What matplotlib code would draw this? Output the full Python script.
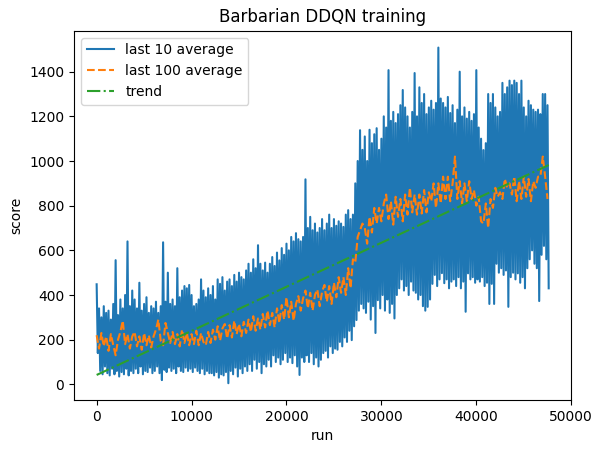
import numpy as np
import matplotlib
matplotlib.use("Agg")
import matplotlib.pyplot as plt

# шаг по оси run между отсчётами
step = 250

# верхние значения last 10 average (каждые 250 запусков)
last10_top = [
    448, 340, 300, 350, 320, 330, 290, 360,
    556, 310, 380, 340, 400, 640, 350, 420,
    380, 340, 455, 330, 360, 390, 320, 350,
    340, 370, 320, 350, 636, 370, 500, 360,
    380, 350, 520, 390, 420, 440, 430, 445,
    400, 350, 360, 380, 470, 420, 390, 430,
    400, 440, 380, 470, 450, 480, 420, 460,
    470, 440, 490, 460, 500, 480, 470, 510,
    540, 500, 560, 520, 623, 540, 510, 545,
    500, 540, 570, 530, 590, 555, 610, 580,
    630, 600, 660, 640, 677, 650, 640, 660,
    918, 700, 750, 690, 720, 680, 700, 740,
    690, 720, 760, 700, 740, 710, 730, 720,
    705, 760, 780, 740, 760, 900, 1000, 1138,
    1050, 1110, 1000, 1140, 1080, 1120, 1147, 1050,
    1100, 1200, 1150, 1407, 1180, 1220, 1170, 1210,
    1250, 1318, 1240, 1200, 1150, 1220, 1394, 1200,
    1330, 1260, 1300, 1210, 1240, 1270, 1230, 1260,
    1508, 1280, 1260, 1240, 1287, 1215, 1250, 1170,
    1230, 1400, 1200, 1240, 1190, 1220, 1180, 1210,
    1407, 1150, 1100, 1049, 1080, 1300, 1260, 1300,
    1240, 1200, 1220, 1350, 1300, 1330, 1360, 1340,
    1360, 1350, 1300, 1360, 1240, 1200, 1270, 1250,
    1230, 1220, 1230, 1210, 1300, 1300, 1250,
]

# нижние значения last 10 average (смещены на полшага)
last10_bottom = [
    140, 60, 45, 80, 50, 40, 70, 45,
    60, 35, 55, 45, 70, 40, 60, 50,
    70, 50, 80, 45, 60, 55, 75, 50,
    60, 80, 50, 19, 65, 55, 75, 60,
    70, 50, 80, 60, 55, 75, 60, 70,
    55, 75, 60, 50, 70, 45, 60, 50,
    50, 40, 55, 30, 45, 40, 55, 5,
    60, 45, 75, 35, 70, 50, 80, 60,
    90, 60, 110, 70, 100, 50, 90, 80,
    110, 80, 130, 100, 120, 90, 110, 140,
    100, 120, 95, 130, 80, 42, 120, 100,
    130, 100, 140, 90, 120, 80, 110, 140,
    150, 120, 170, 140, 160, 155, 190, 170,
    210, 190, 240, 198, 260, 288, 330, 360,
    340, 320, 370, 290, 350, 230, 377, 340,
    400, 330, 380, 320, 360, 295, 400, 430,
    470, 420, 440, 400, 460, 420, 410, 380,
    400, 350, 330, 347, 380, 450, 490, 440,
    470, 498, 453, 470, 430, 460, 470, 440,
    480, 430, 460, 325, 497, 470, 480, 455,
    470, 460, 480, 440, 455, 360, 450, 360,
    540, 500, 520, 490, 510, 347, 480, 500,
    470, 497, 455, 480, 430, 520, 560, 600,
    540, 520, 373, 580, 620, 560, 430,
]

# last 100 average (каждые 250 запусков)
last100 = [
    220, 160, 230, 170, 215, 150, 225, 175,
    130, 200, 235, 285, 180, 225, 160, 215,
    235, 170, 215, 155, 230, 175, 220, 165,
    215, 245, 290, 195, 175, 275, 230, 185,
    235, 180, 225, 170, 245, 185, 230, 175,
    225, 180, 240, 175, 230, 190, 175, 235,
    185, 245, 200, 260, 195, 250, 270, 205,
    265, 210, 285, 225, 270, 215, 280, 230,
    290, 235, 305, 240, 295, 245, 315, 255,
    330, 265, 320, 255, 340, 275, 355, 290,
    390, 300, 370, 285, 360, 395, 330, 385,
    420, 340, 410, 330, 400, 425, 350, 415,
    445, 370, 440, 360, 455, 390, 480, 410,
    480, 400, 520, 430, 560, 545, 660, 690,
    720, 700, 630, 750, 680, 790, 720, 790,
    730, 810, 850, 740, 820, 715, 840, 750,
    830, 730, 850, 760, 880, 770, 850, 760,
    850, 765, 870, 770, 860, 820, 900, 790,
    900, 810, 930, 830, 930, 820, 900, 1020,
    830, 910, 810, 900, 820, 910, 830, 870,
    800, 840, 730, 720, 810, 700, 830, 790,
    880, 840, 860, 830, 920, 880, 900, 850,
    930, 820, 910, 830, 930, 840, 920, 820,
    910, 880, 930, 930, 1020, 930, 830,
]

# линия тренда: начало и конец
trend_x = [0, 47625]
trend_y = [42, 982]

# собираем last 10 average: верх и низ по очереди
x_top = np.arange(len(last10_top)) * step
x_bot = x_top + step // 2
x10 = np.empty(len(x_top) * 2)
y10 = np.empty(len(x_top) * 2)
x10[0::2] = x_top
x10[1::2] = x_bot
y10[0::2] = last10_top
y10[1::2] = last10_bottom

x100 = np.arange(len(last100)) * step

fig, ax = plt.subplots(figsize=(6.02, 4.53), dpi=100)
fig.subplots_adjust(left=0.123, right=0.949, top=0.932, bottom=0.117)

ax.plot(x10, y10, label="last 10 average")
ax.plot(x100, last100, "--", label="last 100 average")
ax.plot(trend_x, trend_y, "-.", label="trend")

ax.set_title("Barbarian DDQN training")
ax.set_xlabel("run")
ax.set_ylabel("score")
ax.legend(loc="upper left")

plt.savefig("out.png")
